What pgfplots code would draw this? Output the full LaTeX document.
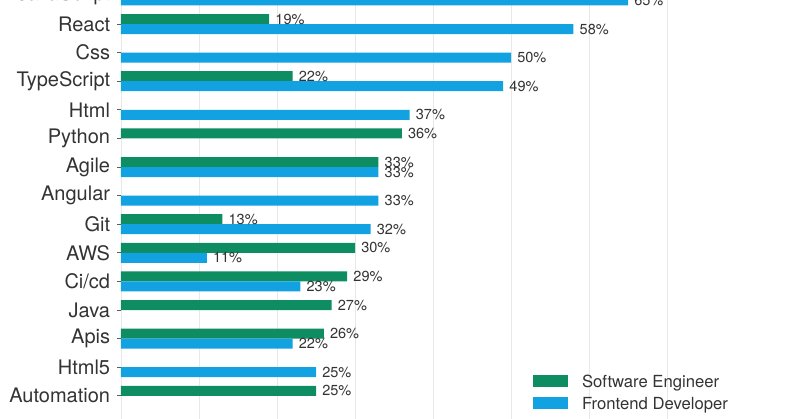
\documentclass[border=0pt]{standalone}
\usepackage{pgfplots}
\pgfplotsset{compat=1.18}
\usepackage{fontspec}
\setmainfont{TeX Gyre Heros}
\definecolor{seg}{HTML}{0E8C62}
\definecolor{fed}{HTML}{12A2E2}
\definecolor{txt}{HTML}{333333}
\definecolor{gridc}{HTML}{E8E8E8}

\begin{document}
\begin{tikzpicture}
\begin{axis}[
  x=5.85pt, y=21.45pt,
  xmin=0, xmax=92, ymin=-1, ymax=15.6,
  y dir=reverse,
  xbar, bar width=7.5pt,
  axis line style={draw=none},
  xtick={0,10,...,70}, xticklabels={},
  xmajorgrids, major grid style={draw=gridc, line width=0.6pt},
  x tick style={draw=none},
  ytick={0,...,14},
  yticklabels={JavaScript,React,Css,TypeScript,Html,Python,Agile,Angular,Git,AWS,Ci/cd,Java,Apis,Html5,Automation},
  y tick style={draw=txt!80, line width=0.6pt},
  tick align=outside, major tick length=3pt,
  yticklabel style={font=\fontsize{15}{17}\selectfont, text=txt, inner sep=0pt, xshift=-5pt},
  nodes near coords={\pgfmathprintnumber{\pgfplotspointmeta}\%},
  nodes near coords style={font=\fontsize{10.9}{12}\selectfont, text=txt, inner sep=0pt, xshift=4.5pt},
  /pgf/number format/assume math mode=true,
  legend cell align=left,
  legend style={at={(axis cs:52.8,13.95)}, anchor=west, draw=none, fill=none, inner sep=0pt,
    font=\fontsize{12.5}{14}\selectfont, text=txt,
    nodes={inner sep=0pt, text height=9pt, text depth=3pt},
    row sep=3.75pt,
    /tikz/every odd column/.append style={column sep=10.5pt}},
  legend image code/.code={\fill (0pt,-2.3pt) rectangle (26.25pt,6.7pt);},
  clip=false,
]
\addplot[fill=seg, draw=none, bar shift=3.75pt] coordinates {(19,1) (22,3) (36,5) (33,6) (13,8) (30,9) (29,10) (27,11) (26,12) (25,14)};
\addplot[fill=fed, draw=none, bar shift=-3.75pt] coordinates {(65,0) (58,1) (50,2) (49,3) (37,4) (33,6) (33,7) (32,8) (11,9) (23,10) (22,12) (25,13)};
\legend{Software Engineer, Frontend Developer}
\coordinate (O) at (axis cs:0,0);
\end{axis}
\pgfresetboundingbox
\path[use as bounding box] ([shift={(-90.75pt,-3.45pt)}]O) rectangle ([shift={(509.25pt,-316.95pt)}]O);
\end{tikzpicture}
\end{document}
